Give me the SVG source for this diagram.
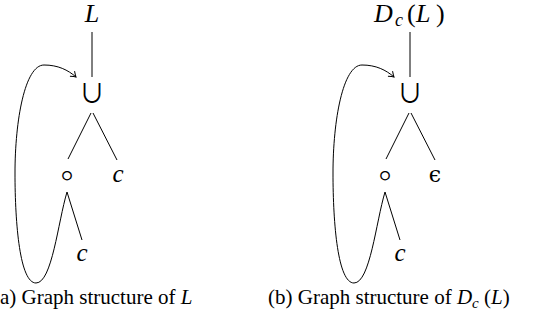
<svg xmlns="http://www.w3.org/2000/svg" width="550" height="328" viewBox="0 0 550 328">
<style>
.edge{fill:none;stroke:#000;stroke-width:1}
.math{font-family:"Liberation Serif","Times New Roman","DejaVu Serif",serif;font-style:italic;font-size:26px;fill:#000}
.mc{font-size:25px}
.up{font-style:normal}
.sym{font-family:"Noto Sans CJK SC","DejaVu Sans",sans-serif;font-size:26px;fill:#000}
.ring{font-family:"DejaVu Sans",sans-serif;font-size:36px;fill:#000;font-weight:200}
.eps{font-family:"DejaVu Serif",serif;font-size:22px;fill:#000}
.cap{font-family:"Liberation Serif","Times New Roman","DejaVu Serif",serif;font-size:21px;fill:#000}
.capm{font-style:italic}
</style>
<defs>
<marker id="arr" markerWidth="10" markerHeight="10" viewBox="-6 -5 8 10" refX="0" refY="0" orient="auto" markerUnits="userSpaceOnUse">
<path d="M-5,-3.5 Q-1.5,-0.8 0,0 Q-1.5,0.8 -5,3.5" fill="none" stroke="#000" stroke-width="1"/>
</marker>
</defs>
<g id="connectors">
<path class="edge" d="M92 32 V77"/>
<path class="edge" d="M91 113 L68 159"/>
<path class="edge" d="M93 113 L117 160"/>
<path class="edge" d="M67 192 L82 240"/>
<path class="edge" marker-end="url(#arr)" d="M67 192 C58 222 52 283 36 283 C20 283 15 225 15 173 C15 120 25 65 44 65 C58 65 68 70 76 77"/>
<path class="edge" d="M410 32 V77"/>
<path class="edge" d="M409 113 L386 159"/>
<path class="edge" d="M411 113 L435 160"/>
<path class="edge" d="M385 192 L400 240"/>
<path class="edge" marker-end="url(#arr)" d="M385 192 C376 222 370 283 354 283 C338 283 333 225 333 173 C333 120 343 65 362 65 C376 65 386 70 394 77"/>
</g>
<g id="a-L"><text class="math" x="92" y="22" text-anchor="middle">L</text></g>
<g id="a-union"><text class="sym" x="92" y="103" text-anchor="middle">∪</text></g>
<g id="a-concat"><text class="ring" x="67" y="187" text-anchor="middle">∘</text></g>
<g id="a-c1"><text class="math mc" x="118" y="182" text-anchor="middle">c</text></g>
<g id="a-c2"><text class="math mc" x="82" y="261" text-anchor="middle">c</text></g>
<g id="b-DcL"><text class="math" y="22"><tspan x="374">D</tspan><tspan x="395" y="26" font-size="18">c</tspan><tspan class="up" x="407" y="22">(</tspan><tspan x="416">L</tspan><tspan class="up" x="436">)</tspan></text></g>
<g id="b-union"><text class="sym" x="410" y="103" text-anchor="middle">∪</text></g>
<g id="b-concat"><text class="ring" x="385" y="187" text-anchor="middle">∘</text></g>
<g id="b-eps"><text class="eps" x="435" y="182" text-anchor="middle">ϵ</text></g>
<g id="b-c"><text class="math mc" x="400" y="261" text-anchor="middle">c</text></g>
<g id="captions">
<text class="cap" x="0" y="304" font-size="20.5">a) Graph structure of <tspan class="capm">L</tspan></text>
<text class="cap" x="268" y="304">(b) Graph structure of <tspan class="capm">D</tspan><tspan class="capm" font-size="15" dy="4">c</tspan><tspan dy="-4"> (</tspan><tspan class="capm">L</tspan>)</text>
</g>
</svg>
